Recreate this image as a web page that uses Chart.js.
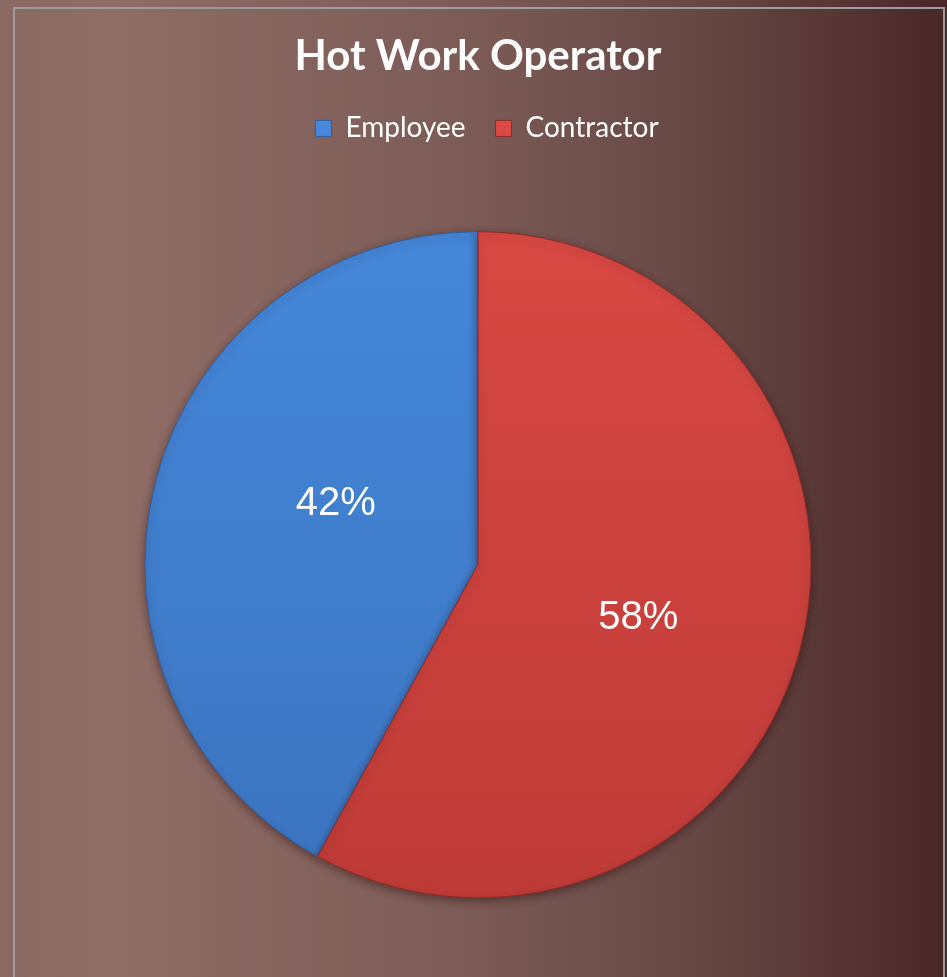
<!DOCTYPE html>
<html>
<head>
<meta charset="utf-8">
<script src="https://cdn.jsdelivr.net/npm/chart.js@4/dist/chart.umd.min.js"></script>
<style>
  html, body { margin: 0; padding: 0; background: #7a5a55; }
  #wrap { width: 947px; height: 977px; position: relative; }
</style>
</head>
<body>
<div id="wrap"><canvas id="c" width="947" height="977"></canvas></div>
<script>
const chartTitle = "Hot Work Operator";
const categories = ["Employee", "Contractor"];
const shares = [42, 58];
const valueLabels = ["42%", "58%"];

const topColors = ["#4689dc", "#dc4a45"];
const bottomColors = ["#3a72bd", "#bb3935"];
const edgeColors = ["#2f5f9e", "#8e2a27"];
const labelNudge = [[19, -19], [-1, 12]];
const legendShiftX = 9;

const bgPlugin = {
  id: 'bg',
  beforeDraw(chart) {
    const ctx = chart.ctx, w = chart.width, h = chart.height;
    ctx.save();
    const g = ctx.createLinearGradient(0, 0, w, 0);
    g.addColorStop(0, '#8b6963');
    g.addColorStop(0.12, '#8f6c66');
    g.addColorStop(0.5, '#7c5b56');
    g.addColorStop(0.75, '#654643');
    g.addColorStop(1, '#4a2727');
    ctx.fillStyle = g;
    ctx.fillRect(0, 0, w, h);
    ctx.strokeStyle = '#9c9c9c';
    ctx.lineWidth = 2;
    ctx.strokeRect(14, 8, 930, 1000);
    ctx.restore();
  }
};

const legendShiftPlugin = {
  id: 'legendShift',
  afterLayout(chart) {
    if (chart.legend) {
      chart.legend.left += legendShiftX;
      chart.legend.right += legendShiftX;
    }
  }
};

const shadowPlugin = {
  id: 'pieShadow',
  beforeDatasetsDraw(chart) {
    const ctx = chart.ctx;
    ctx.save();
    ctx.shadowColor = 'rgba(40,10,10,0.45)';
    ctx.shadowBlur = 8;
    ctx.shadowOffsetY = 3;
  },
  afterDatasetsDraw(chart) {
    chart.ctx.restore();
  }
};

const labelPlugin = {
  id: 'valLabels',
  afterDraw(chart) {
    const ctx = chart.ctx;
    const meta = chart.getDatasetMeta(0);
    ctx.save();
    ctx.fillStyle = '#ffffff';
    ctx.font = '40px "Liberation Sans", Arial, sans-serif';
    ctx.textAlign = 'center';
    ctx.textBaseline = 'middle';
    meta.data.forEach((arc, i) => {
      const p = arc.getCenterPoint();
      ctx.fillText(valueLabels[i], p.x + labelNudge[i][0], p.y + labelNudge[i][1]);
    });
    ctx.restore();
  }
};

function sliceFill(ctx) {
  const chart = ctx.chart;
  const i = ctx.dataIndex;
  const a = chart.chartArea;
  if (!a) return topColors[i];
  const g = chart.ctx.createLinearGradient(0, a.top, 0, a.bottom);
  g.addColorStop(0, topColors[i]);
  g.addColorStop(1, bottomColors[i]);
  return g;
}

new Chart(document.getElementById('c'), {
  type: 'pie',
  data: {
    labels: categories,
    datasets: [{
      data: shares,
      backgroundColor: sliceFill,
      borderColor: edgeColors,
      borderWidth: 1,
      hoverOffset: 0
    }]
  },
  options: {
    responsive: false,
    animation: false,
    rotation: 208.8,
    radius: 333,
    layout: { padding: { top: 0, bottom: -22, left: 9, right: 0 } },
    plugins: {
      title: {
        display: true,
        text: chartTitle,
        color: '#ffffff',
        font: { family: 'Lato, "Open Sans", sans-serif', size: 42, weight: 'bold' },
        padding: { top: 31, bottom: 3 }
      },
      legend: {
        display: true,
        position: 'top',
        labels: {
          color: '#ffffff',
          font: { family: 'Lato, "Open Sans", sans-serif', size: 28 },
          boxWidth: 16,
          boxHeight: 16,
          padding: 30,
          generateLabels(chart) {
            return categories.map((c, i) => ({
              text: c,
              fillStyle: topColors[i],
              strokeStyle: edgeColors[i],
              lineWidth: 1,
              fontColor: '#ffffff',
              index: i,
              hidden: false
            }));
          }
        }
      },
      tooltip: { enabled: false }
    }
  },
  plugins: [bgPlugin, legendShiftPlugin, shadowPlugin, labelPlugin]
});
</script>
</body>
</html>
